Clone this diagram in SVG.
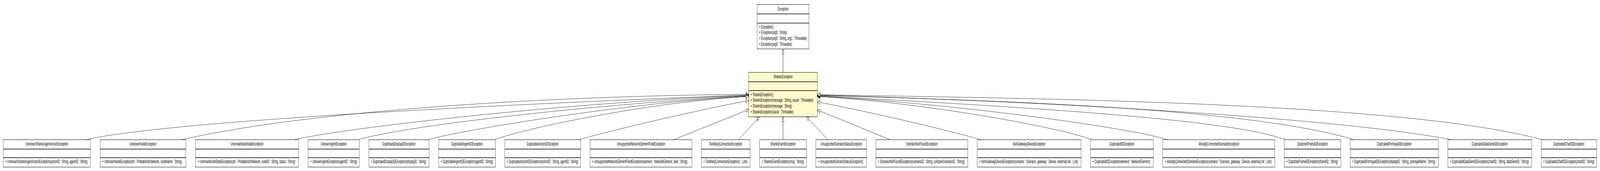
<svg xmlns="http://www.w3.org/2000/svg" width="7776" height="437" viewBox="0 0 7776 437" preserveAspectRatio="none">
<style>
svg:root{width:100vw;height:100vh}
.bg{fill:#fff}
.box{fill:#fff;stroke:#000;stroke-width:1}
.cur{fill:#fffacd;stroke:#000;stroke-width:1}
.dv{stroke:#000;stroke-width:1.6}
.t{font-family:"Liberation Sans",Arial,Helvetica,sans-serif;font-size:12px;fill:#000}
.c{text-anchor:middle}
.e{fill:none;stroke:#000;stroke-width:1;marker-end:url(#tri)}
</style>
<defs>
<marker id="tri" viewBox="0 0 13 10" refX="0" refY="5" markerWidth="13" markerHeight="10" markerUnits="userSpaceOnUse" orient="auto" overflow="visible">
<path d="M0,0.3 L13,5 L0,9.7 Z" fill="#fff" stroke="#000" stroke-width="1"/>
</marker>
</defs>
<rect class="bg" x="0" y="0" width="7776" height="437"/>

<g id="Exception">
<rect class="box" x="3679.5" y="11.5" width="252" height="113.5"/>
<line class="dv" x1="3679.5" y1="35.5" x2="3931.5" y2="35.5"/>
<line class="dv" x1="3679.5" y1="59" x2="3931.5" y2="59"/>
<text class="t c" x="3805.5" y="27.5">Exception</text>
<text class="t" x="3688.5" y="72.7">+ Exception()</text>
<text class="t" x="3688.5" y="87.4">+ Exception(arg0 : String)</text>
<text class="t" x="3688.5" y="102.1">+ Exception(arg0 : String, arg1 : Throwable)</text>
<text class="t" x="3688.5" y="116.8">+ Exception(arg0 : Throwable)</text>
</g>

<g id="ShanksException">
<rect class="cur" x="3638.5" y="185" width="334" height="113.5"/>
<line class="dv" x1="3638.5" y1="209" x2="3972.5" y2="209"/>
<line class="dv" x1="3638.5" y1="231.5" x2="3972.5" y2="231.5"/>
<text class="t c" x="3805.5" y="200.5">ShanksException</text>
<text class="t" x="3647.5" y="245.7">+ ShanksException()</text>
<text class="t" x="3647.5" y="260.4">+ ShanksException(message : String, cause : Throwable)</text>
<text class="t" x="3647.5" y="275.1">+ ShanksException(message : String)</text>
<text class="t" x="3647.5" y="289.8">+ ShanksException(cause : Throwable)</text>
</g>

<g id="UnknownShanksAgentActionException">
<rect class="box" x="15.5" y="357" width="424" height="70"/>
<line class="dv" x1="15.5" y1="381" x2="439.5" y2="381"/>
<line class="dv" x1="15.5" y1="403" x2="439.5" y2="403"/>
<text class="t c" x="227.5" y="372.5">UnknownShanksAgentActionException</text>
<text class="t" x="25" y="417.5">+ UnknownShanksAgentActionException(actionID : String, agentID : String)</text>
</g>

<g id="UnknownNodeException">
<rect class="box" x="486.5" y="357" width="417" height="70"/>
<line class="dv" x1="486.5" y1="381" x2="903.5" y2="381"/>
<line class="dv" x1="486.5" y1="403" x2="903.5" y2="403"/>
<text class="t c" x="695" y="372.5">UnknownNodeException</text>
<text class="t" x="496" y="417.5">+ UnknownNodeException(bn : ProbabilisticNetwork, nodeName : String)</text>
</g>

<g id="UnknowkNodeStateException">
<rect class="box" x="950" y="357" width="501.5" height="70"/>
<line class="dv" x1="950" y1="381" x2="1451.5" y2="381"/>
<line class="dv" x1="950" y1="403" x2="1451.5" y2="403"/>
<text class="t c" x="1200.75" y="372.5">UnknowkNodeStateException</text>
<text class="t" x="959.5" y="417.5">+ UnknowkNodeStateException(bn : ProbabilisticNetwork, nodeID : String, status : String)</text>
</g>

<g id="UnkownAgentException">
<rect class="box" x="1497.5" y="357" width="249" height="70"/>
<line class="dv" x1="1497.5" y1="381" x2="1746.5" y2="381"/>
<line class="dv" x1="1497.5" y1="403" x2="1746.5" y2="403"/>
<text class="t c" x="1622" y="372.5">UnkownAgentException</text>
<text class="t" x="1507" y="417.5">+ UnkownAgentException(agentID : String)</text>
</g>

<g id="DuplictaedDisplayIDException">
<rect class="box" x="1792.5" y="357" width="293" height="70"/>
<line class="dv" x1="1792.5" y1="381" x2="2085.5" y2="381"/>
<line class="dv" x1="1792.5" y1="403" x2="2085.5" y2="403"/>
<text class="t c" x="1939" y="372.5">DuplictaedDisplayIDException</text>
<text class="t" x="1802" y="417.5">+ DuplictaedDisplayIDException(displayID : String)</text>
</g>

<g id="DuplicatedAgentIDException">
<rect class="box" x="2132" y="357" width="276" height="70"/>
<line class="dv" x1="2132" y1="381" x2="2408" y2="381"/>
<line class="dv" x1="2132" y1="403" x2="2408" y2="403"/>
<text class="t c" x="2270" y="372.5">DuplicatedAgentIDException</text>
<text class="t" x="2141.5" y="417.5">+ DuplicatedAgentIDException(agentID : String)</text>
</g>

<g id="DuplicatedActionIDException">
<rect class="box" x="2453" y="357" width="369.5" height="70"/>
<line class="dv" x1="2453" y1="381" x2="2822.5" y2="381"/>
<line class="dv" x1="2453" y1="403" x2="2822.5" y2="403"/>
<text class="t c" x="2637.75" y="372.5">DuplicatedActionIDException</text>
<text class="t" x="2462.5" y="417.5">+ DuplicatedActionIDException(actionID : String, agentID : String)</text>
</g>

<g id="UnsupportedNetworkElementFieldException">
<rect class="box" x="2867.5" y="357" width="495" height="70"/>
<line class="dv" x1="2867.5" y1="381" x2="3362.5" y2="381"/>
<line class="dv" x1="2867.5" y1="403" x2="3362.5" y2="403"/>
<text class="t c" x="3115" y="372.5">UnsupportedNetworkElementFieldException</text>
<text class="t" x="2877" y="417.5">+ UnsupportedNetworkElementFieldException(element : NetworkElement, field : String)</text>
</g>

<g id="TooManyConnectionException">
<rect class="box" x="3408.5" y="357" width="236.5" height="70"/>
<line class="dv" x1="3408.5" y1="381" x2="3645" y2="381"/>
<line class="dv" x1="3408.5" y1="403" x2="3645" y2="403"/>
<text class="t c" x="3526.75" y="372.5">TooManyConnectionException</text>
<text class="t" x="3418" y="417.5">+ TooManyConnectionException(l : Link)</text>
</g>

<g id="ShanksEventException">
<rect class="box" x="3692" y="357" width="227.5" height="70"/>
<line class="dv" x1="3692" y1="381" x2="3919.5" y2="381"/>
<line class="dv" x1="3692" y1="403" x2="3919.5" y2="403"/>
<text class="t c" x="3805.75" y="372.5">ShanksEventException</text>
<text class="t" x="3701.5" y="417.5">+ ShanksEventException(msg : String)</text>
</g>

<g id="UnsupportedScenarioStatusException">
<rect class="box" x="3965" y="357" width="246.5" height="70"/>
<line class="dv" x1="3965" y1="381" x2="4211.5" y2="381"/>
<line class="dv" x1="3965" y1="403" x2="4211.5" y2="403"/>
<text class="t c" x="4088.25" y="372.5">UnsupportedScenarioStatusException</text>
<text class="t" x="3974.5" y="417.5">+ UnsupportedScenarioStatusException()</text>
</g>

<g id="ScenarioNotFoundException">
<rect class="box" x="4256.5" y="357" width="447" height="70"/>
<line class="dv" x1="4256.5" y1="381" x2="4703.5" y2="381"/>
<line class="dv" x1="4256.5" y1="403" x2="4703.5" y2="403"/>
<text class="t c" x="4480" y="372.5">ScenarioNotFoundException</text>
<text class="t" x="4266" y="417.5">+ ScenarioNotFoundException(scenarioID : String, complexScenarioID : String)</text>
</g>

<g id="NonGatewayDeviceException">
<rect class="box" x="4749.5" y="357" width="504" height="70"/>
<line class="dv" x1="4749.5" y1="381" x2="5253.5" y2="381"/>
<line class="dv" x1="4749.5" y1="403" x2="5253.5" y2="403"/>
<text class="t c" x="5001.5" y="372.5">NonGatewayDeviceException</text>
<text class="t" x="4759" y="417.5">+ NonGatewayDeviceException(scenario : Scenario, gateway : Device, externalLink : Link)</text>
</g>

<g id="DuplicatedIDException">
<rect class="box" x="5300" y="357" width="305" height="70"/>
<line class="dv" x1="5300" y1="381" x2="5605" y2="381"/>
<line class="dv" x1="5300" y1="403" x2="5605" y2="403"/>
<text class="t c" x="5452.5" y="372.5">DuplicatedIDException</text>
<text class="t" x="5309.5" y="417.5">+ DuplicatedIDException(element : NetworkElement)</text>
</g>

<g id="AlreadyConnectedScenarioException">
<rect class="box" x="5651" y="357" width="545" height="70"/>
<line class="dv" x1="5651" y1="381" x2="6196" y2="381"/>
<line class="dv" x1="5651" y1="403" x2="6196" y2="403"/>
<text class="t c" x="5923.5" y="372.5">AlreadyConnectedScenarioException</text>
<text class="t" x="5660.5" y="417.5">+ AlreadyConnectedScenarioException(scenario : Scenario, gateway : Device, externalLink : Link)</text>
</g>

<g id="DuplictedFrameIDException">
<rect class="box" x="6241.5" y="357" width="275" height="70"/>
<line class="dv" x1="6241.5" y1="381" x2="6516.5" y2="381"/>
<line class="dv" x1="6241.5" y1="403" x2="6516.5" y2="403"/>
<text class="t c" x="6379" y="372.5">DuplictedFrameIDException</text>
<text class="t" x="6251" y="417.5">+ DuplictedFrameIDException(frameID : String)</text>
</g>

<g id="DuplicatedPortrayalIDException">
<rect class="box" x="6561.5" y="357" width="429" height="70"/>
<line class="dv" x1="6561.5" y1="381" x2="6990.5" y2="381"/>
<line class="dv" x1="6561.5" y1="403" x2="6990.5" y2="403"/>
<text class="t c" x="6776" y="372.5">DuplicatedPortrayalIDException</text>
<text class="t" x="6571" y="417.5">+ DuplicatedPortrayalIDException(displayID : String, portrayalName : String)</text>
</g>

<g id="DuplicatedDataSerieIDException">
<rect class="box" x="7036.5" y="357" width="407.5" height="70"/>
<line class="dv" x1="7036.5" y1="381" x2="7444" y2="381"/>
<line class="dv" x1="7036.5" y1="403" x2="7444" y2="403"/>
<text class="t c" x="7240.25" y="372.5">DuplicatedDataSerieIDException</text>
<text class="t" x="7046" y="417.5">+ DuplicatedDataSerieIDException(chartID : String, dataSerieID : String)</text>
</g>

<g id="DuplicatedChartIDException">
<rect class="box" x="7490.5" y="357" width="269" height="70"/>
<line class="dv" x1="7490.5" y1="381" x2="7759.5" y2="381"/>
<line class="dv" x1="7490.5" y1="403" x2="7759.5" y2="403"/>
<text class="t c" x="7625" y="372.5">DuplicatedChartIDException</text>
<text class="t" x="7500" y="417.5">+ DuplicatedChartIDException(chartID : String)</text>
</g>

<g id="connectors">
<path class="e" d="M3805.3,185 L3805.3,138"/>
<path class="e" d="M418,357 C818,309 2423,267 3626,243"/>
<path class="e" d="M883,357 C1483,285 2597,246 3626,241"/>
<path class="e" d="M1430,357 C1704.5,324.1 2802.5,260.5 3626,244"/>
<path class="e" d="M1742,357 C1977.5,319.3 2919.5,266.2 3626,245"/>
<path class="e" d="M2078,357 C2271.5,329.9 3045.5,263.4 3626,246"/>
<path class="e" d="M2403,357 C2556,326.4 3167,260.8 3626,247"/>
<path class="e" d="M2814,357 C2915.5,340.8 3321.5,288.8 3626,258.3"/>
<path class="e" d="M3274,357 L3626.3,282.7"/>
<path class="e" d="M3589.5,357 L3680.3,304.8"/>
<path class="e" d="M3805.3,357 L3805.3,311.3"/>
<path class="e" d="M4023.2,357 L3929.6,304.6"/>
<path class="e" d="M4325.7,357 L3984.7,283.7"/>
<path class="e" d="M4766.8,357 C4669.1,341.4 4278,291 3985,261.7"/>
<path class="e" d="M5306.8,357 C5141.8,324 4481,261.9 3985,247"/>
<path class="e" d="M5675,357 C5464,323.2 4619,265 3985,246"/>
<path class="e" d="M6246,357 C5963,300.4 4833,270.4 3985,245"/>
<path class="e" d="M6580,357 C6061,274 4763.5,255.7 3985,244"/>
<path class="e" d="M7054.8,357 C6440.8,295.6 4906,256.8 3985,243"/>
<path class="e" d="M7497,357 C6797,259 4985,252 3985,242"/>
</g>
</svg>
